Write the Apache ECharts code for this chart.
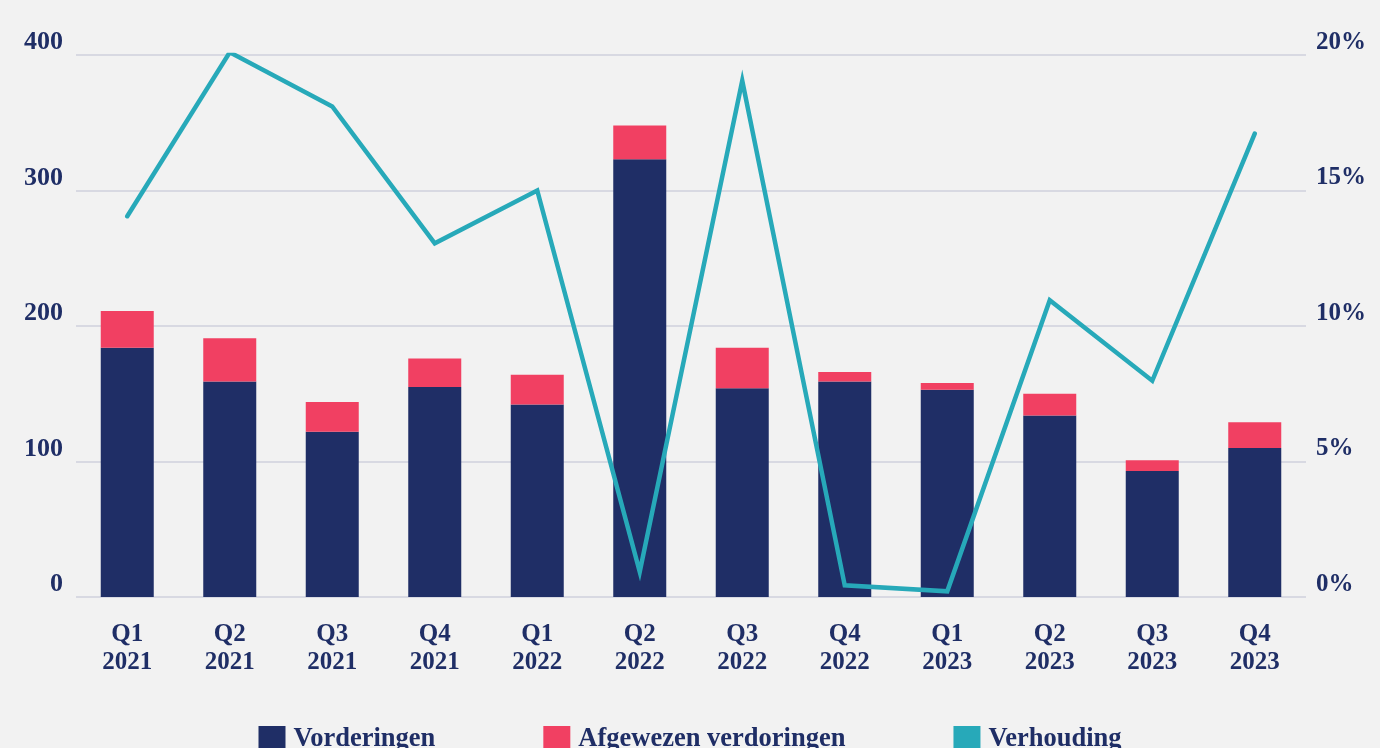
<!DOCTYPE html>
<html>
<head>
<meta charset="utf-8">
<script src="https://cdn.jsdelivr.net/npm/echarts@6/dist/echarts.min.js"></script>
<style>
html,body{margin:0;padding:0;background:#f2f2f2;}
#chart{width:1380px;height:748px;}
</style>
</head>
<body>
<div id="chart"></div>
<script>
var categories = ['Q1\n2021','Q2\n2021','Q3\n2021','Q4\n2021','Q1\n2022','Q2\n2022','Q3\n2022','Q4\n2022','Q1\n2023','Q2\n2023','Q3\n2023','Q4\n2023'];
var vorderingen = [184, 159, 122, 155, 142, 323, 154, 159, 153, 134, 93, 110];
var afgewezen = [27, 32, 22, 21, 22, 25, 30, 7, 5, 16, 8, 19];
var verhouding = [14.05, 20.1, 18.1, 13.05, 15.0, 0.93, 19.05, 0.43, 0.21, 10.95, 7.98, 17.1];

var navy = '#1f2e66';
var red = '#f14062';
var teal = '#27a9b9';
var font = 'Liberation Serif';

var chart = echarts.init(document.getElementById('chart'), null, {renderer:'canvas'});
chart.setOption({
  backgroundColor: '#f2f2f2',
  animation: false,
  textStyle: {fontFamily: font},
  grid: {left: 76, right: 74, top: 55, bottom: 151, containLabel: false, outerBoundsMode: 'none'},
  legend: {
    top: 721,
    left: 'center',
    icon: 'rect',
    itemWidth: 27,
    itemHeight: 27,
    itemGap: 108,
    textStyle: {fontFamily: font, fontSize: 26.5, fontWeight: 'bold', color: navy, padding: [0,0,0,3]},
    data: ['Vorderingen', 'Afgewezen verdoringen', 'Verhouding']
  },
  xAxis: {
    type: 'category',
    data: categories,
    axisLine: {show: false},
    axisTick: {show: false},
    axisLabel: {
      fontFamily: font, fontSize: 25, fontWeight: 'bold', color: navy,
      lineHeight: 28, margin: 24, interval: 0
    }
  },
  yAxis: [
    {
      type: 'value', min: 0, max: 400, interval: 100,
      axisLine: {show: false}, axisTick: {show: false},
      splitLine: {show: true, lineStyle: {color: '#cfd1dc', width: 1.5}},
      axisLabel: {
        fontFamily: font, fontSize: 26, fontWeight: 'bold', color: navy,
        margin: 13, align: 'right', verticalAlign: 'bottom', lineHeight: 25
      }
    },
    {
      type: 'value', min: 0, max: 20, interval: 5, position: 'right',
      axisLine: {show: false}, axisTick: {show: false},
      splitLine: {show: false},
      axisLabel: {
        fontFamily: font, fontSize: 25, fontWeight: 'bold', color: navy,
        margin: 10, align: 'left', verticalAlign: 'bottom', lineHeight: 25,
        formatter: '{value}%'
      }
    }
  ],
  series: [
    {
      name: 'Vorderingen', type: 'bar', stack: 'total', data: vorderingen,
      barWidth: 53, itemStyle: {color: navy}, yAxisIndex: 0
    },
    {
      name: 'Afgewezen verdoringen', type: 'bar', stack: 'total', data: afgewezen,
      barWidth: 53, itemStyle: {color: red}, yAxisIndex: 0
    },
    {
      name: 'Verhouding', type: 'line', data: verhouding, yAxisIndex: 1,
      symbol: 'none', showSymbol: false,
      lineStyle: {color: teal, width: 4.5, cap: 'round', join: 'miter'},
      itemStyle: {color: teal}
    }
  ]
});
</script>
</body>
</html>
